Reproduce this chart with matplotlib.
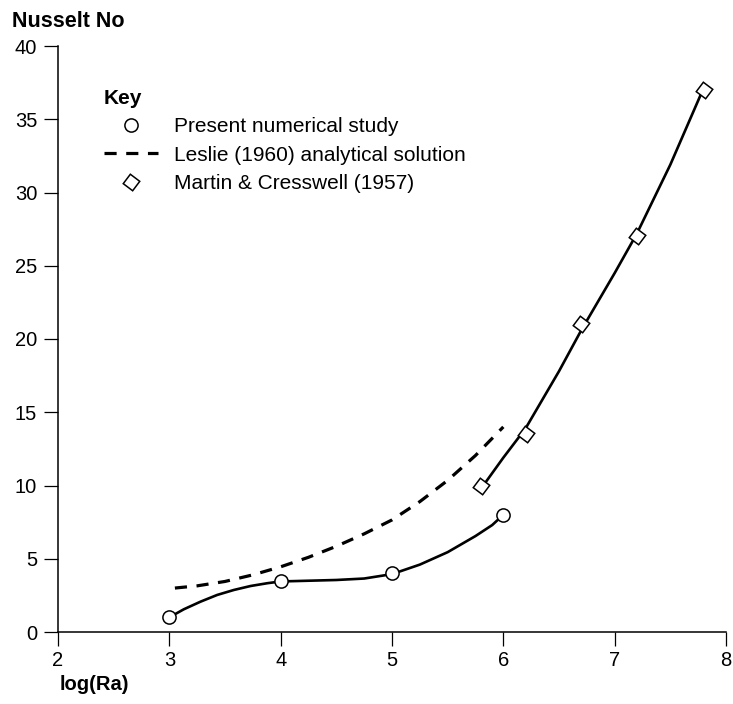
import matplotlib
matplotlib.use("Agg")
import matplotlib.pyplot as plt
from matplotlib.lines import Line2D

plt.rcParams['font.family'] = ['Liberation Sans', 'DejaVu Sans']

# Present numerical study: markers and the drawn curve through them
present_x = [3, 4, 5, 6]
present_y = [1.0, 3.5, 4.0, 8.0]
present_curve_x = [3.0, 3.13, 3.28, 3.43, 3.58, 3.73, 3.88, 4.0, 4.25, 4.5,
                   4.75, 5.0, 5.25, 5.5, 5.75, 5.9, 6.0]
present_curve_y = [1.0, 1.55, 2.07, 2.53, 2.87, 3.14, 3.33, 3.45, 3.5, 3.55,
                   3.65, 3.95, 4.6, 5.45, 6.55, 7.3, 8.0]

# Leslie (1960) analytical solution (dashed)
leslie_x = [3.05, 3.25, 3.5, 3.75, 4.0, 4.25, 4.5, 4.75, 5.0, 5.25, 5.5, 5.75, 6.0]
leslie_y = [3.0, 3.15, 3.45, 3.9, 4.45, 5.1, 5.85, 6.7, 7.65, 8.9, 10.35, 12.05, 14.0]

# Martin & Cresswell (1957): markers and the drawn curve
martin_x = [5.8, 6.2, 6.7, 7.2, 7.8]
martin_y = [10.0, 13.5, 21.0, 27.0, 37.0]
martin_curve_x = [5.82, 6.0, 6.2, 6.5, 6.7, 7.0, 7.2, 7.5, 7.78]
martin_curve_y = [10.0, 11.9, 13.9, 17.8, 20.6, 24.5, 27.2, 31.9, 36.8]

xticks = [2, 3, 4, 5, 6, 7, 8]
yticks = [0, 5, 10, 15, 20, 25, 30, 35, 40]

fig = plt.figure(figsize=(7.33, 7.04), dpi=100)
ax = fig.add_axes([58 / 733, 1 - 632 / 704, 668 / 733, 586 / 704])

circle = dict(ls='none', marker='o', ms=9.5, mfc='white', mec='black', mew=1.1)
diamond = dict(ls='none', marker=(4, 0, 8), ms=12, mfc='white', mec='black', mew=1.1)
dashed = dict(color='black', lw=2.3, dashes=(3.8, 3.0))

ax.plot(present_curve_x, present_curve_y, color='black', lw=1.9, solid_joinstyle='round')
ax.plot(present_x, present_y, **circle)

ax.plot(leslie_x, leslie_y, **dashed)

ax.plot(martin_curve_x, martin_curve_y, color='black', lw=1.9, solid_joinstyle='round')
ax.plot(martin_x, martin_y, **diamond)

ax.set_xlim(2, 8)
ax.set_ylim(0, 40)
ax.set_xticks(xticks)
ax.set_yticks(yticks)
ax.tick_params(labelsize=14.5, length=10, width=0.9, direction='out')
ax.tick_params(axis='y', pad=5)
ax.tick_params(axis='x', pad=3.5)
for s in ['top', 'right']:
    ax.spines[s].set_visible(False)
for s in ['left', 'bottom']:
    ax.spines[s].set_linewidth(1.1)

fig.text(12 / 733, 1 - 27 / 704, 'Nusselt No', fontsize=15.5, fontweight='bold', ha='left', va='baseline')
fig.text(60 / 733, 1 - 690 / 704, 'log(Ra)', fontsize=14.5, fontweight='bold', ha='left', va='baseline')

handles = [Line2D([], [], **circle), Line2D([], [], **dashed), Line2D([], [], **diamond)]
labels = ['Present numerical study', 'Leslie (1960) analytical solution', 'Martin & Cresswell (1957)']
leg = fig.legend(handles, labels, loc='upper left', bbox_to_anchor=(104 / 733, 1 - 89 / 704),
                 frameon=False, fontsize=15, title='Key', alignment='left',
                 handlelength=2.6, handletextpad=0.75, labelspacing=0.45, borderpad=0, borderaxespad=0)
leg.get_title().set_fontweight('bold')
leg.get_title().set_fontsize(15)

fig.savefig('out.png', dpi=100)
